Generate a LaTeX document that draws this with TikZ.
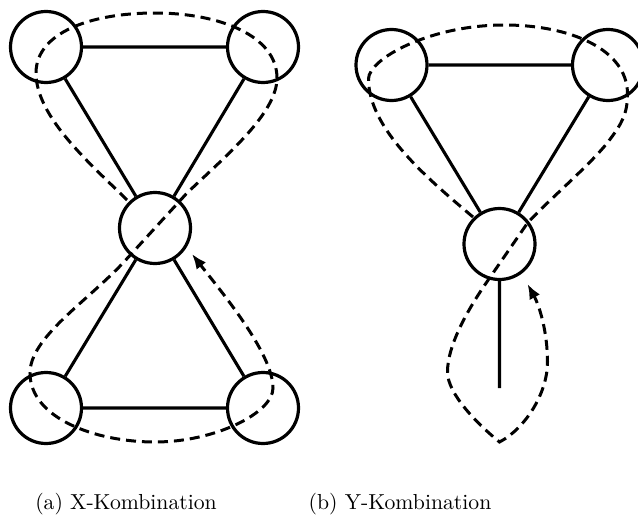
\documentclass[tikz,border=0pt]{standalone}
\usetikzlibrary{arrows.meta}
\begin{document}
\begin{tikzpicture}[x=1pt,y=-1pt,
  vtx/.style={circle,draw,line width=3.2pt,minimum size=71pt,inner sep=0pt},
  edge/.style={line width=3.1pt},
  walk/.style={line width=3pt,dash pattern=on 10pt off 6pt},
  tipend/.style={-{Latex[length=15pt,width=12pt]}},
  captext/.style={scale=2.17,inner sep=0pt}]
\useasboundingbox (0,0) rectangle (638,522);
\clip (0,0) rectangle (638,522);

% (a) X-Kombination
\node[vtx] (atl) at (46,47) {};
\node[vtx] (atr) at (263,47) {};
\node[vtx] (am) at (155,228) {};
\node[vtx] (abl) at (46,408) {};
\node[vtx] (abr) at (263,408) {};
\draw[edge] (atl) -- (atr) (atl) -- (am) (atr) -- (am)
            (am) -- (abl) (am) -- (abr) (abl) -- (abr);
\begin{scope}[shift={(am.center)}]
\draw[walk,tipend] (-28,-28) .. controls (-62,-62) and (-119,-110) .. (-119,-155)
 .. controls (-119,-195) and (-65,-215) .. (0,-215)
 .. controls (65,-215) and (122,-192) .. (122,-150)
 .. controls (122,-115) and (72,-73) .. (32,-35)
 -- (-32,35)
 .. controls (-70,75) and (-125,110) .. (-125,145)
 .. controls (-125,190) and (-60,214) .. (0,214)
 .. controls (60,214) and (118,185) .. (118,160)
 .. controls (118,125) and (65,62) .. (37,26);
\end{scope}

% (b) Y-Kombination
\node[vtx] (btl) at (391.5,65) {};
\node[vtx] (btr) at (608,65) {};
\node[vtx] (bm) at (499.5,244) {};
\coordinate (bend) at (499.5,388);
\draw[edge] (btl) -- (btr) (btl) -- (bm) (btr) -- (bm) (bm) -- (bend);
\begin{scope}[shift={(bm.center)}]
\draw[walk,tipend] (-26.5,-27) .. controls (-71.5,-65) and (-131,-115) .. (-131,-165)
 .. controls (-131,-185) and (-70,-219) .. (5,-219)
 .. controls (70,-219) and (128,-195) .. (128,-150)
 .. controls (128,-130) and (122,-120) .. (110,-104)
 .. controls (92,-80) and (50,-45) .. (28,-21)
 -- (-12,37)
 .. controls (-30,63) and (-52,100) .. (-52,128)
 .. controls (-52,150) and (-22,180) .. (0,198)
 .. controls (25,185) and (48,150) .. (48,118)
 .. controls (48,88) and (40,62) .. (28,40);
\end{scope}

\node[captext] (capa) at (126,504) {(a) X-Kombination};
\node[captext] (capb) at (400,504) {(b) Y-Kombination};
\end{tikzpicture}
\end{document}
